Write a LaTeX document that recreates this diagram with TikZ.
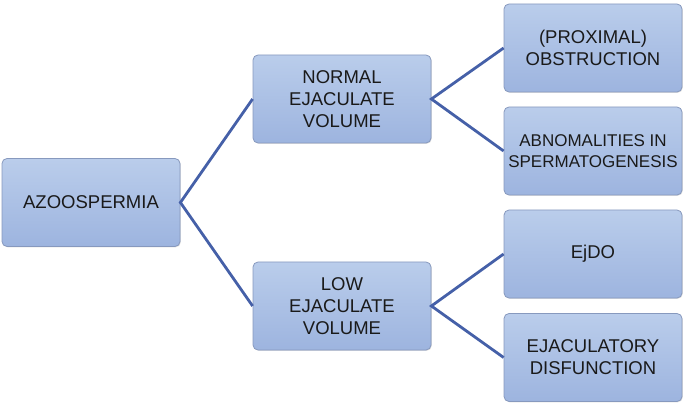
\documentclass[tikz,border=0pt]{standalone}
\usepackage{fontspec}
\setmainfont{Liberation Sans}
\usetikzlibrary{shadows}
\definecolor{boxtop}{HTML}{BACDEB}
\definecolor{boxbot}{HTML}{9DB4DF}
\definecolor{boxline}{HTML}{8799BE}
\definecolor{linkc}{HTML}{4560A8}
\definecolor{txt}{HTML}{1A1A1A}
\tikzset{
  box/.style={draw=boxline, line width=0.8pt, rounded corners=5pt,
    top color=boxtop, bottom color=boxbot, minimum width=178pt, minimum height=88pt,
    align=center, text=txt, font=\fontsize{18.5}{22}\selectfont, inner sep=0pt,
    drop shadow={shadow xshift=0.8pt, shadow yshift=-0.8pt, opacity=0.25}},
  smallbox/.style={box, font=\fontsize{17}{21}\selectfont},
  link/.style={draw=linkc, line width=2.8pt}
}
\begin{document}
\begin{tikzpicture}[x=1pt,y=-1pt]
\useasboundingbox (0,0) rectangle (685,403);
\node[box] (az) at (91,202.5) {AZOOSPERMIA};
\node[box] (nv) at (342,99) {NORMAL\\EJACULATE\\VOLUME};
\node[box] (lv) at (342,306) {LOW\\EJACULATE\\VOLUME};
\node[box] (po) at (593,48) {(PROXIMAL)\\OBSTRUCTION};
\node[smallbox] (ab) at (593,151) {ABNOMALITIES IN\\SPERMATOGENESIS};
\node[box] (ej) at (593,254) {EjDO};
\node[box] (ed) at (593,357.5) {EJACULATORY\\DISFUNCTION};
\draw[link] (nv.west) -- (az.east) -- (lv.west);
\draw[link] (po.west) -- (nv.east) -- (ab.west);
\draw[link] (ej.west) -- (lv.east) -- (ed.west);
\end{tikzpicture}
\end{document}
